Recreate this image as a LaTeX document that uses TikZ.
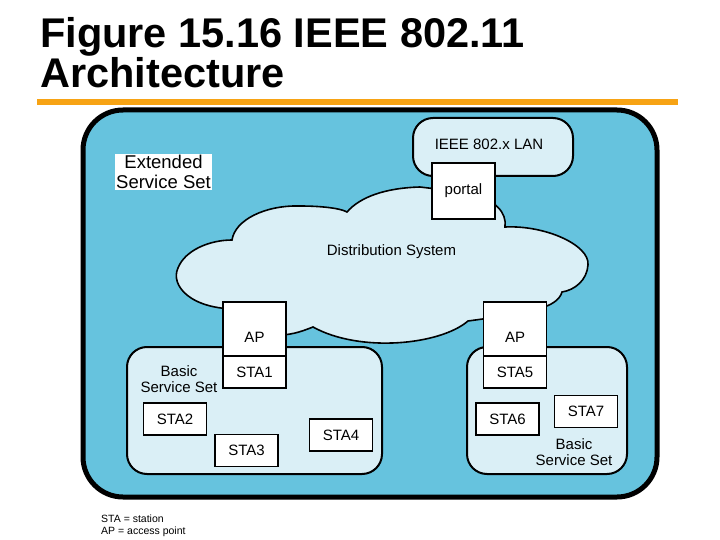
\documentclass[tikz,border=0pt]{standalone}
\usepackage{fontspec}
\setmainfont{Liberation Sans}
\usetikzlibrary{positioning}

\definecolor{essblue}{RGB}{102,195,222}
\definecolor{paleblue}{RGB}{218,239,246}
\definecolor{rulebar}{RGB}{247,163,20}

\begin{document}
\begin{tikzpicture}[
    x=1pt, y=-1pt,
    font=\fontsize{15}{17}\selectfont,
    stabox/.style={draw, fill=white, line width=1.6pt, outer sep=0pt, inner sep=0pt, minimum width=63pt, minimum height=32pt},
    apbox/.style={stabox, minimum height=54pt, text height=28pt, text depth=2pt},
    setbox/.style={draw, fill=paleblue, line width=2pt, rounded corners=20pt, outer sep=0pt, inner sep=0pt},
    cloud/.style={draw, fill=paleblue, line width=1.6pt},
    caption/.style={align=center, inner sep=0pt, font=\fontsize{15}{16}\selectfont}
  ]
    \useasboundingbox (0,0) rectangle (720,540);
    \fill[white] (0,0) rectangle (720,540);

    % title and rule
    \node[anchor=base west, inner sep=0pt, font=\fontsize{41.5}{41.5}\selectfont\bfseries] (title1) at (40,48) {Figure 15.16 IEEE 802.11};
    \node[anchor=base west, inner sep=0pt, font=\fontsize{41.5}{41.5}\selectfont\bfseries] (title2) at (40,88) {Architecture};
    \fill[rulebar] (37,99) rectangle (678,105);

    % extended service set
    \node[draw, line width=5pt, fill=essblue, rounded corners=40pt, minimum width=574pt, minimum height=387pt] (ess) at (370,303.5) {};
    \node[fill=white, align=center, inner sep=1pt, font=\fontsize{18.5}{20}\selectfont] (esslabel) at (163.5,172) {Extended\\Service Set};

    % wired LAN
    \node[setbox, minimum width=160pt, minimum height=58pt] (lan) at (493,147) {};
    \node[caption] (lanlabel) at (489,144) {IEEE 802.x LAN};

    % distribution system
    \draw[cloud] (240,309) .. controls (190,310) and (170,285) .. (178,268)
      .. controls (185,250) and (210,240) .. (232,240)
      .. controls (235,220) and (265,205) .. (300,206)
      .. controls (320,206) and (340,208) .. (347,212)
      .. controls (360,197) and (385,188) .. (420,187)
      -- (470,193)
      .. controls (495,200) and (507,212) .. (505,227)
      .. controls (545,225) and (590,245) .. (588,265)
      .. controls (587,280) and (575,290) .. (562,292)
      .. controls (560,300) and (550,306) .. (540,308)
      -- (490,318) -- (468,321)
      .. controls (440,345) and (360,353) .. (313,327)
      .. controls (300,332) and (290,336) .. (270,335)
      -- cycle;
    \node[caption] (ds) at (391.5,252) {Distribution System};

    \node[stabox, minimum height=56pt] (portal) at (463.5,191) {portal};

    % basic service sets
    \node[setbox, minimum width=255pt, minimum height=127pt] (bss1) at (254.5,410.5) {};
    \node[setbox, minimum width=160pt, minimum height=127pt] (bss2) at (547,410.5) {};
    \node[caption] (bss1label) at (179,379) {Basic\\Service Set};
    \node[caption] (bss2label) at (574,452) {Basic\\Service Set};

    % stations
    \node[apbox] (ap1) at (254.5,329) {AP};
    \node[stabox, below=0pt of ap1] (sta1) {STA1};
    \node[stabox] (sta2) at (175,419) {STA2};
    \node[stabox] (sta3) at (246.5,450.5) {STA3};
    \node[stabox] (sta4) at (341,435) {STA4};
    \node[apbox] (ap2) at (515,329) {AP};
    \node[stabox, below=0pt of ap2] (sta5) {STA5};
    \node[stabox] (sta6) at (507.5,419) {STA6};
    \node[stabox] (sta7) at (586,411.5) {STA7};

    % key
    \node[anchor=north west, align=left, inner sep=0pt, font=\fontsize{10.5}{12}\selectfont] (key) at (101,515) {STA = station\\AP = access point};
  \end{tikzpicture}
\end{document}
